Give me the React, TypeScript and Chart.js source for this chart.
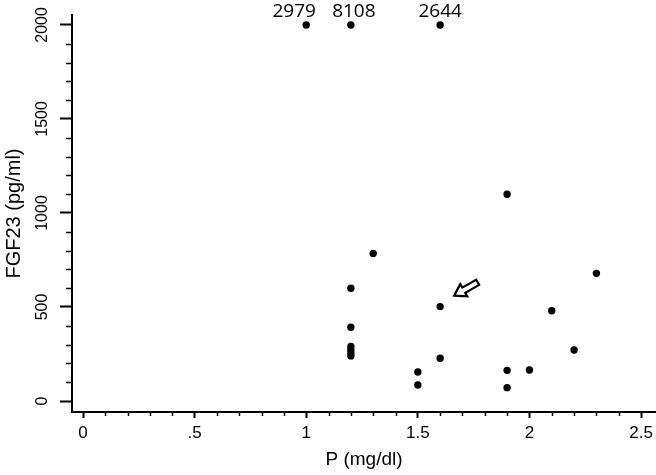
import React, { useEffect, useRef } from 'react';
import { Chart, registerables } from 'chart.js';

Chart.register(...registerables);

// P (mg/dl) and FGF23 (pg/ml) per patient
const pValues = [1.0, 1.2, 1.6, 1.9, 1.3, 1.2, 1.6, 1.2, 1.2, 1.2, 1.2, 1.2, 1.6, 1.5, 1.5, 1.9, 2.0, 1.9, 2.1, 2.2, 2.3];
const fgf23Values = [2979, 8108, 2644, 1100, 785, 600, 502, 392, 290, 272, 255, 240, 227, 154, 85, 163, 165, 71, 480, 271, 679];
const yCap = 2000; // values above the cap are plotted at the cap and labelled
const arrowIndex = 6; // the point marked with the arrow
const cappedLabelShift = [-12, 3, 0]; // horizontal nudge of the capped-value labels

const xTickValues = [0, 0.5, 1, 1.5, 2, 2.5];
const xTickLabels = ['0', '.5', '1', '1.5', '2', '2.5'];
const yTickValues = [0, 500, 1000, 1500, 2000];
const yTickLabels = ['0', '500', '1000', '1500', '2000'];
const xMinorStep = 0.1;
const yMinorStep = 100;

const annotationPlugin = {
  id: 'annotations',
  afterDatasetsDraw(chart: any) {
    const ctx = chart.ctx as CanvasRenderingContext2D;
    const xs = chart.scales.x;
    const ys = chart.scales.y;
    const { left, bottom } = chart.chartArea;
    ctx.save();
    // minor ticks
    ctx.strokeStyle = '#000';
    ctx.lineWidth = 1.5;
    const xMax = xTickValues[xTickValues.length - 1];
    const nx = Math.round(xMax / xMinorStep);
    for (let k = 0; k <= nx; k++) {
      if (k % 5 === 0) continue;
      const px = Math.round(xs.getPixelForValue(k * xMinorStep)) + 0.5;
      ctx.beginPath();
      ctx.moveTo(px, bottom + 1);
      ctx.lineTo(px, bottom + 4);
      ctx.stroke();
    }
    const yMax = yTickValues[yTickValues.length - 1];
    const ny = Math.round(yMax / yMinorStep);
    for (let k = 0; k <= ny; k++) {
      if (k % 5 === 0) continue;
      const py = Math.round(ys.getPixelForValue(k * yMinorStep)) + 0.5;
      ctx.beginPath();
      ctx.moveTo(left - 6, py);
      ctx.lineTo(left - 1, py);
      ctx.stroke();
    }
    // labels for capped values
    ctx.fillStyle = '#000';
    ctx.font = '19px "Open Sans", "Liberation Sans", sans-serif';
    ctx.textAlign = 'center';
    ctx.textBaseline = 'middle';
    let c = 0;
    for (let i = 0; i < pValues.length; i++) {
      if (fgf23Values[i] > yCap) {
        const px = xs.getPixelForValue(pValues[i]) + (cappedLabelShift[c] || 0);
        const py = ys.getPixelForValue(yCap);
        ctx.fillText(String(fgf23Values[i]), px, py - 13);
        c++;
      }
    }
    // arrow pointing at the marked point
    const ax = xs.getPixelForValue(pValues[arrowIndex]) + 14;
    const ay = ys.getPixelForValue(Math.min(fgf23Values[arrowIndex], yCap)) - 11;
    const theta = Math.atan2(13, -23);
    const L = 27, hl = 11, hw = 7, sw = 3;
    ctx.translate(ax, ay);
    ctx.rotate(theta);
    ctx.beginPath();
    ctx.moveTo(0, 0);
    ctx.lineTo(-hl, -hw);
    ctx.lineTo(-hl, -sw);
    ctx.lineTo(-L, -sw);
    ctx.lineTo(-L, sw);
    ctx.lineTo(-hl, sw);
    ctx.lineTo(-hl, hw);
    ctx.closePath();
    ctx.fillStyle = '#fff';
    ctx.fill();
    ctx.lineWidth = 2.2;
    ctx.lineJoin = 'miter';
    ctx.strokeStyle = '#000';
    ctx.stroke();
    ctx.restore();
  },
};

export default function App() {
  const canvasRef = useRef<HTMLCanvasElement | null>(null);

  useEffect(() => {
    if (!canvasRef.current) return;
    const points = pValues.map((p, i) => ({ x: p, y: Math.min(fgf23Values[i], yCap) }));
    const chart = new Chart(canvasRef.current, {
      type: 'scatter',
      data: {
        datasets: [
          {
            data: points,
            pointRadius: 3.7,
            pointHoverRadius: 3.7,
            backgroundColor: '#000',
            borderColor: '#000',
            borderWidth: 0,
            clip: false,
          },
        ],
      },
      options: {
        animation: false,
        responsive: true,
        maintainAspectRatio: false,
        layout: { autoPadding: false, padding: { top: 15, right: 0, left: 0, bottom: 0 } },
        plugins: { legend: { display: false }, tooltip: { enabled: false } },
        scales: {
          x: {
            type: 'linear',
            min: -0.0493,
            max: 2.567,
            afterBuildTicks: (s: any) => {
              s.ticks = xTickValues.map((v) => ({ value: v }));
            },
            afterFit: (s: any) => {
              s.height = 63;
              s.paddingLeft = 0;
              s.paddingRight = 0;
            },
            ticks: {
              callback: (_v: any, i: number) => xTickLabels[i],
              font: { family: '"Liberation Sans Narrow", "Arial Narrow", "Liberation Sans", sans-serif', size: 17 },
              color: '#000',
              padding: 5,
              maxRotation: 0,
              minRotation: 0,
              autoSkip: false,
            },
            grid: { drawOnChartArea: false, tickLength: 6, tickWidth: 2, tickColor: '#000' },
            border: { display: true, color: '#000', width: 2 },
            title: {
              display: true,
              text: 'P (mg/dl)',
              font: { family: '"Liberation Sans", Arial, sans-serif', size: 19 },
              color: '#000',
              padding: { top: 0, bottom: 4 },
            },
          },
          y: {
            type: 'linear',
            min: -58.5,
            max: 2053,
            afterBuildTicks: (s: any) => {
              s.ticks = yTickValues.map((v) => ({ value: v }));
            },
            afterFit: (s: any) => {
              s.width = 72;
              s.paddingTop = 0;
              s.paddingBottom = 0;
            },
            ticks: {
              callback: (_v: any, i: number) => yTickLabels[i],
              font: { family: '"Liberation Sans", Arial, sans-serif', size: 16 },
              color: '#000',
              padding: 0,
              minRotation: 90,
              maxRotation: 90,
              crossAlign: 'center',
              autoSkip: false,
            },
            grid: { drawOnChartArea: false, tickLength: 12, tickWidth: 2, tickColor: '#000' },
            border: { display: true, color: '#000', width: 2 },
            title: {
              display: true,
              text: 'FGF23 (pg/ml)',
              font: { family: '"Liberation Sans", Arial, sans-serif', size: 20 },
              color: '#000',
              padding: { top: 2, bottom: 0 },
            },
          },
        },
      } as any,
      plugins: [annotationPlugin],
    });
    return () => chart.destroy();
  }, []);

  return (
    <div style={{ position: 'fixed', left: 0, top: 0, width: 656, height: 475, background: '#fff' }}>
      <canvas ref={canvasRef} />
    </div>
  );
}
